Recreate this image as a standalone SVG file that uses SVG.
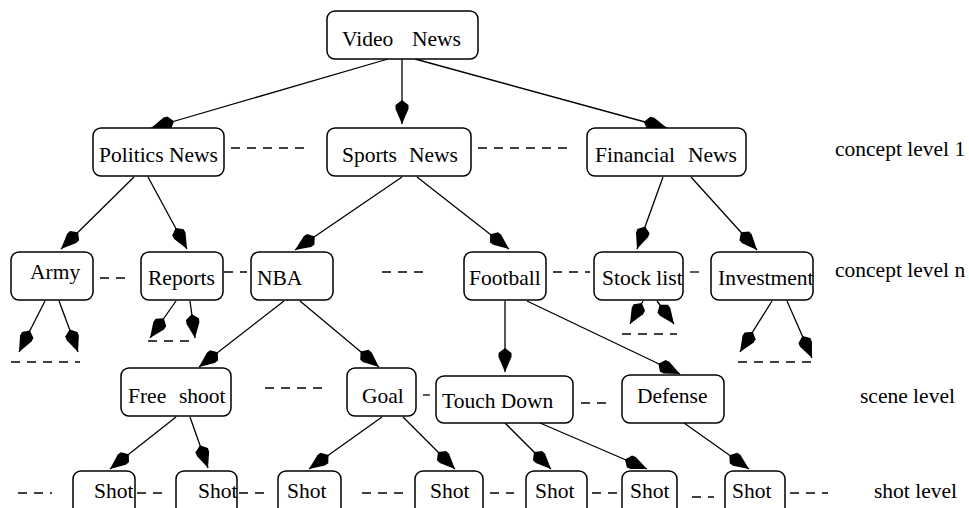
<svg xmlns="http://www.w3.org/2000/svg" width="969" height="508" viewBox="0 0 969 508">
<style>
  .box { fill: #fff; stroke: #000; stroke-width: 1.5; }
  .t { font-family: "Liberation Serif", "Times New Roman", serif; font-size: 21.5px; fill: #000; }
  .edge { stroke: #000; stroke-width: 1.3; fill: none; marker-end: url(#ah); }
  .dash { stroke: #000; stroke-width: 1.3; stroke-dasharray: 9 7; fill: none; }
</style>
<defs>
  <marker id="ah" viewBox="-25 -8 26 16" refX="0" refY="0" markerWidth="26" markerHeight="16" markerUnits="userSpaceOnUse" orient="auto">
    <path d="M0,0 L-15,-6.5 L-19,-6.5 L-24,0 L-19,6.5 L-15,6.5 Z" fill="#000"/>
  </marker>
</defs>
<rect width="969" height="508" fill="#fff"/>

<g id="connectors">
  <line class="edge" x1="388" y1="59" x2="151" y2="128"/>
  <line class="edge" x1="402" y1="59" x2="402" y2="124"/>
  <line class="edge" x1="415" y1="59" x2="667" y2="128"/>
  <line class="edge" x1="134" y1="177" x2="61" y2="249"/>
  <line class="edge" x1="148" y1="177" x2="187" y2="249"/>
  <line class="edge" x1="402" y1="177" x2="295" y2="250"/>
  <line class="edge" x1="417" y1="177" x2="509" y2="249"/>
  <line class="edge" x1="663" y1="177" x2="637" y2="249"/>
  <line class="edge" x1="691" y1="177" x2="757" y2="250"/>
  <line class="edge" x1="45" y1="301" x2="19" y2="352"/>
  <line class="edge" x1="59" y1="301" x2="78" y2="352"/>
  <line class="edge" x1="176" y1="301" x2="150" y2="338"/>
  <line class="edge" x1="190" y1="301" x2="195" y2="338"/>
  <line class="edge" x1="284" y1="301" x2="199" y2="367"/>
  <line class="edge" x1="300" y1="301" x2="379" y2="367"/>
  <line class="edge" x1="505" y1="301" x2="505" y2="372"/>
  <line class="edge" x1="527" y1="301" x2="680" y2="374"/>
  <line class="edge" x1="643" y1="301" x2="630" y2="324"/>
  <line class="edge" x1="657" y1="301" x2="674" y2="324"/>
  <line class="edge" x1="772" y1="301" x2="740" y2="352"/>
  <line class="edge" x1="787" y1="301" x2="812" y2="358"/>
  <line class="edge" x1="176" y1="417" x2="110" y2="469"/>
  <line class="edge" x1="190" y1="417" x2="208" y2="468"/>
  <line class="edge" x1="382" y1="417" x2="309" y2="469"/>
  <line class="edge" x1="403" y1="417" x2="455" y2="469"/>
  <line class="edge" x1="505" y1="423" x2="551" y2="469"/>
  <line class="edge" x1="540" y1="423" x2="647" y2="469"/>
  <line class="edge" x1="684" y1="423" x2="749" y2="469"/>

  <line class="dash" x1="231" y1="148" x2="305" y2="148"/>
  <line class="dash" x1="478" y1="148" x2="568" y2="148"/>
  <line class="dash" x1="100" y1="278" x2="125" y2="278"/>
  <line class="dash" x1="224" y1="272" x2="247" y2="272"/>
  <line class="dash" x1="382" y1="272" x2="423" y2="272"/>
  <line class="dash" x1="553" y1="272" x2="590" y2="272"/>
  <line class="dash" x1="690" y1="272" x2="699" y2="272"/>
  <line class="dash" x1="11" y1="362" x2="80" y2="362"/>
  <line class="dash" x1="148" y1="341" x2="190" y2="341"/>
  <line class="dash" x1="622" y1="334" x2="677" y2="334"/>
  <line class="dash" x1="738" y1="362" x2="813" y2="362"/>
  <line class="dash" x1="265" y1="388" x2="323" y2="388"/>
  <line class="dash" x1="423" y1="395" x2="430" y2="395"/>
  <line class="dash" x1="581" y1="403" x2="606" y2="403"/>
  <line class="dash" x1="18" y1="493" x2="52" y2="493"/>
  <line class="dash" x1="137" y1="493" x2="162" y2="493"/>
  <line class="dash" x1="239" y1="493" x2="265" y2="493"/>
  <line class="dash" x1="362" y1="493" x2="403" y2="493"/>
  <line class="dash" x1="490" y1="493" x2="514" y2="493"/>
  <line class="dash" x1="592" y1="493" x2="618" y2="493"/>
  <line class="dash" x1="692" y1="497" x2="714" y2="497"/>
  <line class="dash" x1="790" y1="493" x2="828" y2="493"/>
</g>

<g id="video-news"><rect class="box" x="327" y="11" width="151" height="48" rx="8"/><text class="t" x="342" y="46">Video <tspan x="412">News</tspan></text></g>
<g id="politics-news"><rect class="box" x="93" y="128" width="131" height="48" rx="8"/><text class="t" x="99" y="162">Politics News</text></g>
<g id="sports-news"><rect class="box" x="327" y="128" width="144" height="48" rx="8"/><text class="t" x="342" y="162">Sports <tspan x="409">News</tspan></text></g>
<g id="financial-news"><rect class="box" x="587" y="128" width="159" height="48" rx="8"/><text class="t" x="595" y="162">Financial <tspan x="688">News</tspan></text></g>

<g id="army"><rect class="box" x="11" y="252" width="82" height="48" rx="8"/><text class="t" x="30" y="279">Army</text></g>
<g id="reports"><rect class="box" x="141" y="252" width="82" height="48" rx="8"/><text class="t" x="148" y="285">Reports</text></g>
<g id="nba"><rect class="box" x="251" y="252" width="82" height="48" rx="8"/><text class="t" x="257" y="285">NBA</text></g>
<g id="football"><rect class="box" x="464" y="252" width="82" height="48" rx="8"/><text class="t" x="469" y="285">Football</text></g>
<g id="stock-list"><rect class="box" x="594" y="252" width="89" height="48" rx="8"/><text class="t" x="602" y="285">Stock list</text></g>
<g id="investment"><rect class="box" x="711" y="252" width="102" height="48" rx="8"/><text class="t" x="718" y="285">Investment</text></g>

<g id="free-shoot"><rect class="box" x="121" y="368" width="110" height="48" rx="8"/><text class="t" x="128" y="403">Free <tspan x="179">shoot</tspan></text></g>
<g id="goal"><rect class="box" x="347" y="368" width="69" height="48" rx="8"/><text class="t" x="362" y="403">Goal</text></g>
<g id="touch-down"><rect class="box" x="436" y="376" width="137" height="47" rx="8"/><text class="t" x="442" y="408">Touch Down</text></g>
<g id="defense"><rect class="box" x="622" y="375" width="102" height="48" rx="8"/><text class="t" x="637" y="403">Defense</text></g>

<g id="shot1"><rect class="box" x="73" y="471" width="62" height="50" rx="8"/><text class="t" x="94" y="498">Shot</text></g>
<g id="shot2"><rect class="box" x="176" y="471" width="61" height="50" rx="8"/><text class="t" x="198" y="498">Shot</text></g>
<g id="shot3"><rect class="box" x="278" y="471" width="63" height="50" rx="8"/><text class="t" x="287" y="498">Shot</text></g>
<g id="shot4"><rect class="box" x="415" y="471" width="68" height="50" rx="8"/><text class="t" x="430" y="498">Shot</text></g>
<g id="shot5"><rect class="box" x="526" y="471" width="61" height="50" rx="8"/><text class="t" x="535" y="498">Shot</text></g>
<g id="shot6"><rect class="box" x="622" y="471" width="55" height="50" rx="8"/><text class="t" x="630" y="498">Shot</text></g>
<g id="shot7"><rect class="box" x="725" y="471" width="60" height="50" rx="8"/><text class="t" x="732" y="498">Shot</text></g>

<g id="levels">
  <text class="t" x="835" y="156">concept level 1</text>
  <text class="t" x="835" y="277">concept level n</text>
  <text class="t" x="860" y="403">scene level</text>
  <text class="t" x="874" y="498">shot level</text>
</g>
</svg>
